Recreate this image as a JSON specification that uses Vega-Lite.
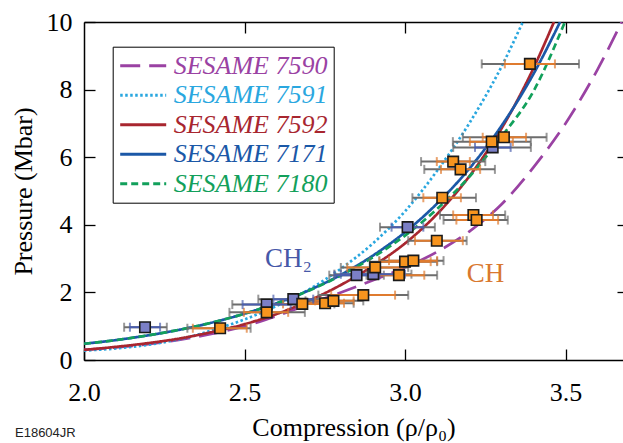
{
  "$schema": "https://vega.github.io/schema/vega-lite/v6.json",
  "width": 539,
  "height": 338,
  "autosize": {"type": "none"},
  "padding": {"left": 84, "top": 22, "right": 0, "bottom": 83},
  "background": "white",
  "config": {
    "view": {"stroke": null},
    "font": "Liberation Serif",
    "axis": {"grid": false, "domainColor": "black", "domainWidth": 1.5, "tickColor": "black", "tickWidth": 1.3, "labelColor": "black", "titleColor": "black", "titleFontWeight": "normal", "labelFont": "Liberation Serif", "titleFont": "Liberation Serif"}
  },
  "title": {"text": "E18604JR", "orient": "bottom", "anchor": "start", "frame": "bounds", "font": "Liberation Sans", "fontSize": 13, "fontWeight": "normal", "color": "#222222", "offset": -13, "dx": 5},
  "datasets": {
    "curves": [
      {"series": "SESAME 7590", "x": 2.0, "y": 0.30}, {"series": "SESAME 7590", "x": 2.1, "y": 0.37}, {"series": "SESAME 7590", "x": 2.2, "y": 0.47}, {"series": "SESAME 7590", "x": 2.3, "y": 0.60}, {"series": "SESAME 7590", "x": 2.4, "y": 0.78}, {"series": "SESAME 7590", "x": 2.5, "y": 1.0}, {"series": "SESAME 7590", "x": 2.6, "y": 1.3}, {"series": "SESAME 7590", "x": 2.7, "y": 1.65}, {"series": "SESAME 7590", "x": 2.8, "y": 2.0}, {"series": "SESAME 7590", "x": 2.9, "y": 2.36}, {"series": "SESAME 7590", "x": 3.0, "y": 2.74}, {"series": "SESAME 7590", "x": 3.1, "y": 3.2}, {"series": "SESAME 7590", "x": 3.2, "y": 3.8}, {"series": "SESAME 7590", "x": 3.3, "y": 4.6}, {"series": "SESAME 7590", "x": 3.4, "y": 5.7}, {"series": "SESAME 7590", "x": 3.5, "y": 7.0}, {"series": "SESAME 7590", "x": 3.6, "y": 8.6}, {"series": "SESAME 7590", "x": 3.675, "y": 10.0},
      {"series": "SESAME 7591", "x": 2.0, "y": 0.28}, {"series": "SESAME 7591", "x": 2.1, "y": 0.34}, {"series": "SESAME 7591", "x": 2.2, "y": 0.45}, {"series": "SESAME 7591", "x": 2.3, "y": 0.62}, {"series": "SESAME 7591", "x": 2.4, "y": 0.88}, {"series": "SESAME 7591", "x": 2.5, "y": 1.2}, {"series": "SESAME 7591", "x": 2.6, "y": 1.6}, {"series": "SESAME 7591", "x": 2.7, "y": 2.08}, {"series": "SESAME 7591", "x": 2.8, "y": 2.7}, {"series": "SESAME 7591", "x": 2.9, "y": 3.45}, {"series": "SESAME 7591", "x": 3.0, "y": 4.4}, {"series": "SESAME 7591", "x": 3.1, "y": 5.6}, {"series": "SESAME 7591", "x": 3.2, "y": 7.0}, {"series": "SESAME 7591", "x": 3.3, "y": 8.67}, {"series": "SESAME 7591", "x": 3.367, "y": 10.0},
      {"series": "SESAME 7592", "x": 2.0, "y": 0.30}, {"series": "SESAME 7592", "x": 2.1, "y": 0.39}, {"series": "SESAME 7592", "x": 2.2, "y": 0.50}, {"series": "SESAME 7592", "x": 2.3, "y": 0.64}, {"series": "SESAME 7592", "x": 2.4, "y": 0.83}, {"series": "SESAME 7592", "x": 2.5, "y": 1.06}, {"series": "SESAME 7592", "x": 2.6, "y": 1.36}, {"series": "SESAME 7592", "x": 2.7, "y": 1.75}, {"series": "SESAME 7592", "x": 2.8, "y": 2.22}, {"series": "SESAME 7592", "x": 2.9, "y": 2.78}, {"series": "SESAME 7592", "x": 3.0, "y": 3.45}, {"series": "SESAME 7592", "x": 3.1, "y": 4.32}, {"series": "SESAME 7592", "x": 3.2, "y": 5.43}, {"series": "SESAME 7592", "x": 3.3, "y": 6.84}, {"series": "SESAME 7592", "x": 3.4, "y": 8.63}, {"series": "SESAME 7592", "x": 3.464, "y": 10.0},
      {"series": "SESAME 7171", "x": 2.0, "y": 0.48}, {"series": "SESAME 7171", "x": 2.1, "y": 0.59}, {"series": "SESAME 7171", "x": 2.2, "y": 0.73}, {"series": "SESAME 7171", "x": 2.3, "y": 0.90}, {"series": "SESAME 7171", "x": 2.4, "y": 1.11}, {"series": "SESAME 7171", "x": 2.5, "y": 1.37}, {"series": "SESAME 7171", "x": 2.6, "y": 1.68}, {"series": "SESAME 7171", "x": 2.7, "y": 2.06}, {"series": "SESAME 7171", "x": 2.8, "y": 2.52}, {"series": "SESAME 7171", "x": 2.9, "y": 3.09}, {"series": "SESAME 7171", "x": 3.0, "y": 3.78}, {"series": "SESAME 7171", "x": 3.1, "y": 4.63}, {"series": "SESAME 7171", "x": 3.2, "y": 5.66}, {"series": "SESAME 7171", "x": 3.3, "y": 6.92}, {"series": "SESAME 7171", "x": 3.4, "y": 8.46}, {"series": "SESAME 7171", "x": 3.483, "y": 10.0},
      {"series": "SESAME 7180", "x": 2.0, "y": 0.48}, {"series": "SESAME 7180", "x": 2.1, "y": 0.59}, {"series": "SESAME 7180", "x": 2.2, "y": 0.73}, {"series": "SESAME 7180", "x": 2.3, "y": 0.90}, {"series": "SESAME 7180", "x": 2.4, "y": 1.11}, {"series": "SESAME 7180", "x": 2.5, "y": 1.37}, {"series": "SESAME 7180", "x": 2.6, "y": 1.68}, {"series": "SESAME 7180", "x": 2.7, "y": 2.05}, {"series": "SESAME 7180", "x": 2.8, "y": 2.5}, {"series": "SESAME 7180", "x": 2.9, "y": 3.04}, {"series": "SESAME 7180", "x": 3.0, "y": 3.68}, {"series": "SESAME 7180", "x": 3.1, "y": 4.47}, {"series": "SESAME 7180", "x": 3.2, "y": 5.42}, {"series": "SESAME 7180", "x": 3.3, "y": 6.6}, {"series": "SESAME 7180", "x": 3.4, "y": 7.95}, {"series": "SESAME 7180", "x": 3.498, "y": 10.0}
    ],
    "points": [
      {"mat": "CH2", "x": 2.190, "y": 0.97, "ilo": 2.143, "ihi": 2.237, "olo": 2.125, "ohi": 2.258},
      {"mat": "CH2", "x": 2.569, "y": 1.64, "ilo": 2.494, "ihi": 2.644, "olo": 2.462, "ohi": 2.676},
      {"mat": "CH2", "x": 2.652, "y": 1.80, "ilo": 2.590, "ihi": 2.714, "olo": 2.543, "ohi": 2.762},
      {"mat": "CH2", "x": 2.849, "y": 2.51, "ilo": 2.780, "ihi": 2.920, "olo": 2.764, "ohi": 2.934},
      {"mat": "CH2", "x": 2.901, "y": 2.54, "ilo": 2.800, "ihi": 3.000, "olo": 2.780, "ohi": 3.020},
      {"mat": "CH2", "x": 3.008, "y": 3.93, "ilo": 2.958, "ihi": 3.057, "olo": 2.922, "ohi": 3.093},
      {"mat": "CH2", "x": 3.273, "y": 6.29, "ilo": 3.218, "ihi": 3.329, "olo": 3.150, "ohi": 3.392},
      {"mat": "CH", "x": 2.424, "y": 0.94, "ilo": 2.339, "ihi": 2.507, "olo": 2.322, "ohi": 2.519},
      {"mat": "CH", "x": 2.569, "y": 1.41, "ilo": 2.498, "ihi": 2.636, "olo": 2.453, "ohi": 2.688},
      {"mat": "CH", "x": 2.680, "y": 1.66, "ilo": 2.620, "ihi": 2.740, "olo": 2.580, "ohi": 2.780},
      {"mat": "CH", "x": 2.751, "y": 1.68, "ilo": 2.690, "ihi": 2.810, "olo": 2.660, "ohi": 2.840},
      {"mat": "CH", "x": 2.777, "y": 1.75, "ilo": 2.720, "ihi": 2.840, "olo": 2.690, "ohi": 2.870},
      {"mat": "CH", "x": 2.870, "y": 1.92, "ilo": 2.770, "ihi": 2.969, "olo": 2.730, "ohi": 3.010},
      {"mat": "CH", "x": 2.907, "y": 2.74, "ilo": 2.820, "ihi": 2.990, "olo": 2.800, "ohi": 3.010},
      {"mat": "CH", "x": 2.981, "y": 2.51, "ilo": 2.900, "ihi": 3.060, "olo": 2.880, "ohi": 3.100},
      {"mat": "CH", "x": 3.000, "y": 2.91, "ilo": 2.920, "ihi": 3.080, "olo": 2.890, "ohi": 3.100},
      {"mat": "CH", "x": 3.026, "y": 2.94, "ilo": 2.950, "ihi": 3.100, "olo": 2.920, "ohi": 3.120},
      {"mat": "CH", "x": 3.099, "y": 3.53, "ilo": 3.031, "ihi": 3.180, "olo": 3.010, "ohi": 3.192},
      {"mat": "CH", "x": 3.116, "y": 4.80, "ilo": 3.057, "ihi": 3.174, "olo": 3.023, "ohi": 3.221},
      {"mat": "CH", "x": 3.150, "y": 5.87, "ilo": 3.099, "ihi": 3.202, "olo": 3.050, "ohi": 3.250},
      {"mat": "CH", "x": 3.173, "y": 5.64, "ilo": 3.112, "ihi": 3.234, "olo": 3.060, "ohi": 3.280},
      {"mat": "CH", "x": 3.213, "y": 4.29, "ilo": 3.150, "ihi": 3.274, "olo": 3.109, "ohi": 3.312},
      {"mat": "CH", "x": 3.223, "y": 4.14, "ilo": 3.160, "ihi": 3.290, "olo": 3.120, "ohi": 3.320},
      {"mat": "CH", "x": 3.270, "y": 6.46, "ilo": 3.202, "ihi": 3.336, "olo": 3.149, "ohi": 3.392},
      {"mat": "CH", "x": 3.308, "y": 6.59, "ilo": 3.242, "ihi": 3.377, "olo": 3.180, "ohi": 3.441},
      {"mat": "CH", "x": 3.389, "y": 8.76, "ilo": 3.311, "ihi": 3.467, "olo": 3.239, "ohi": 3.542}
    ]
  },
  "resolve": {"axis": {"x": "independent", "y": "independent"}},
  "layer": [
    {
      "data": {"name": "curves"},
      "mark": {"type": "line", "strokeWidth": 2.7, "interpolate": "monotone", "clip": true},
      "encoding": {
        "x": {"field": "x", "type": "quantitative", "scale": {"domain": [2, 3.679], "nice": false, "zero": false},
              "axis": {"orient": "top", "values": [2.5, 3.0, 3.5], "tickSize": -11, "labels": false, "title": null, "domain": true}},
        "y": {"field": "y", "type": "quantitative", "scale": {"domain": [0, 10], "nice": false},
              "axis": {"orient": "right", "values": [2, 4, 6, 8], "tickSize": -6, "labels": false, "title": null, "domain": false}},
        "color": {"field": "series", "type": "nominal",
                  "scale": {"domain": ["SESAME 7590", "SESAME 7591", "SESAME 7592", "SESAME 7171", "SESAME 7180"], "range": ["#9a42a3", "#2aa7df", "#a8262f", "#1b58a7", "#12a05b"]},
                  "legend": {"orient": "none", "legendX": 28.7, "legendY": 24.7, "title": null, "symbolType": "M-1,0H3", "symbolSize": 529, "symbolStrokeWidth": 3, "labelFontSize": 26, "labelFontStyle": "italic", "labelFont": "Liberation Serif", "labelOffset": 29, "padding": 6, "rowPadding": 3.5, "strokeColor": "black", "fillColor": "white", "labelLimit": 300,
                             "encode": {"labels": {"update": {"fill": {"scale": "color", "field": "value"}}}}}},
        "strokeDash": {"field": "series", "type": "nominal",
                       "scale": {"domain": ["SESAME 7590", "SESAME 7591", "SESAME 7592", "SESAME 7171", "SESAME 7180"], "range": [[20, 9], [2.5, 2.5], [1, 0], [1, 0], [7, 4]]},
                       "legend": {"orient": "none", "legendX": 28.7, "legendY": 24.7, "title": null, "symbolType": "M-1,0H3", "symbolSize": 529, "symbolStrokeWidth": 3, "labelFontSize": 26, "labelFontStyle": "italic", "labelFont": "Liberation Serif", "labelOffset": 29, "padding": 6, "rowPadding": 3.5, "strokeColor": "black", "fillColor": "white", "labelLimit": 300,
                             "encode": {"labels": {"update": {"fill": {"scale": "color", "field": "value"}}}}}}
      }
    },
    {
      "data": {"name": "points"},
      "mark": {"type": "errorbar", "color": "#6d6d6d", "ticks": {"size": 9}, "thickness": 2},
      "encoding": {
        "x": {"field": "olo", "type": "quantitative", "scale": {"domain": [2, 3.679], "nice": false, "zero": false}, "axis": null},
        "x2": {"field": "ohi"},
        "y": {"field": "y", "type": "quantitative", "scale": {"domain": [0, 10], "nice": false}, "axis": null}
      }
    },
    {
      "data": {"name": "points"},
      "transform": [{"filter": "datum.mat === 'CH'"}],
      "mark": {"type": "errorbar", "color": "#df7b2f", "ticks": {"size": 9}, "thickness": 2},
      "encoding": {
        "x": {"field": "ilo", "type": "quantitative", "scale": {"domain": [2, 3.679], "nice": false, "zero": false}, "axis": null},
        "x2": {"field": "ihi"},
        "y": {"field": "y", "type": "quantitative", "scale": {"domain": [0, 10], "nice": false}, "axis": null}
      }
    },
    {
      "data": {"name": "points"},
      "transform": [{"filter": "datum.mat === 'CH2'"}],
      "mark": {"type": "errorbar", "color": "#4a5eae", "ticks": {"size": 9}, "thickness": 2},
      "encoding": {
        "x": {"field": "ilo", "type": "quantitative", "scale": {"domain": [2, 3.679], "nice": false, "zero": false}, "axis": null},
        "x2": {"field": "ihi"},
        "y": {"field": "y", "type": "quantitative", "scale": {"domain": [0, 10], "nice": false}, "axis": null}
      }
    },
    {
      "data": {"name": "points"},
      "mark": {"type": "square", "size": 110, "stroke": "#1a1a1a", "strokeWidth": 1.6, "opacity": 1},
      "encoding": {
        "x": {"field": "x", "type": "quantitative", "scale": {"domain": [2, 3.679], "nice": false, "zero": false},
              "axis": {"orient": "bottom", "values": [2.0, 2.5, 3.0, 3.5], "format": ".1f", "tickSize": -11, "labelFontSize": 26, "labelPadding": 30, "labelFlush": false, "title": "Compression (ρ/ρ₀)", "titleFontSize": 26, "titlePadding": 9}},
        "y": {"field": "y", "type": "quantitative", "scale": {"domain": [0, 10], "nice": false},
              "axis": {"orient": "left", "values": [0, 2, 4, 6, 8, 10], "tickSize": -11, "labelFontSize": 26, "labelPadding": 23, "labelFlush": false, "title": "Pressure (Mbar)", "titleFontSize": 26, "titlePadding": 10}},
        "fill": {"field": "mat", "type": "nominal", "scale": {"domain": ["CH", "CH2"], "range": ["#f7941e", "#7b7fc6"]}, "legend": null}
      }
    },
    {
      "data": {"values": [{"label": "CH₂"}]},
      "mark": {"type": "text", "fontSize": 27, "align": "left", "baseline": "alphabetic", "color": "#4658a8", "font": "Liberation Serif"},
      "encoding": {
        "text": {"field": "label"},
        "x": {"datum": 2.564, "type": "quantitative", "scale": {"domain": [2, 3.679], "nice": false, "zero": false}, "axis": null},
        "y": {"datum": 2.76, "type": "quantitative", "scale": {"domain": [0, 10], "nice": false}, "axis": null}
      }
    },
    {
      "data": {"values": [{"label": "CH"}]},
      "mark": {"type": "text", "fontSize": 27, "align": "left", "baseline": "alphabetic", "color": "#d9782f", "font": "Liberation Serif"},
      "encoding": {
        "text": {"field": "label"},
        "x": {"datum": 3.192, "type": "quantitative", "scale": {"domain": [2, 3.679], "nice": false, "zero": false}, "axis": null},
        "y": {"datum": 2.30, "type": "quantitative", "scale": {"domain": [0, 10], "nice": false}, "axis": null}
      }
    }
  ]
}
